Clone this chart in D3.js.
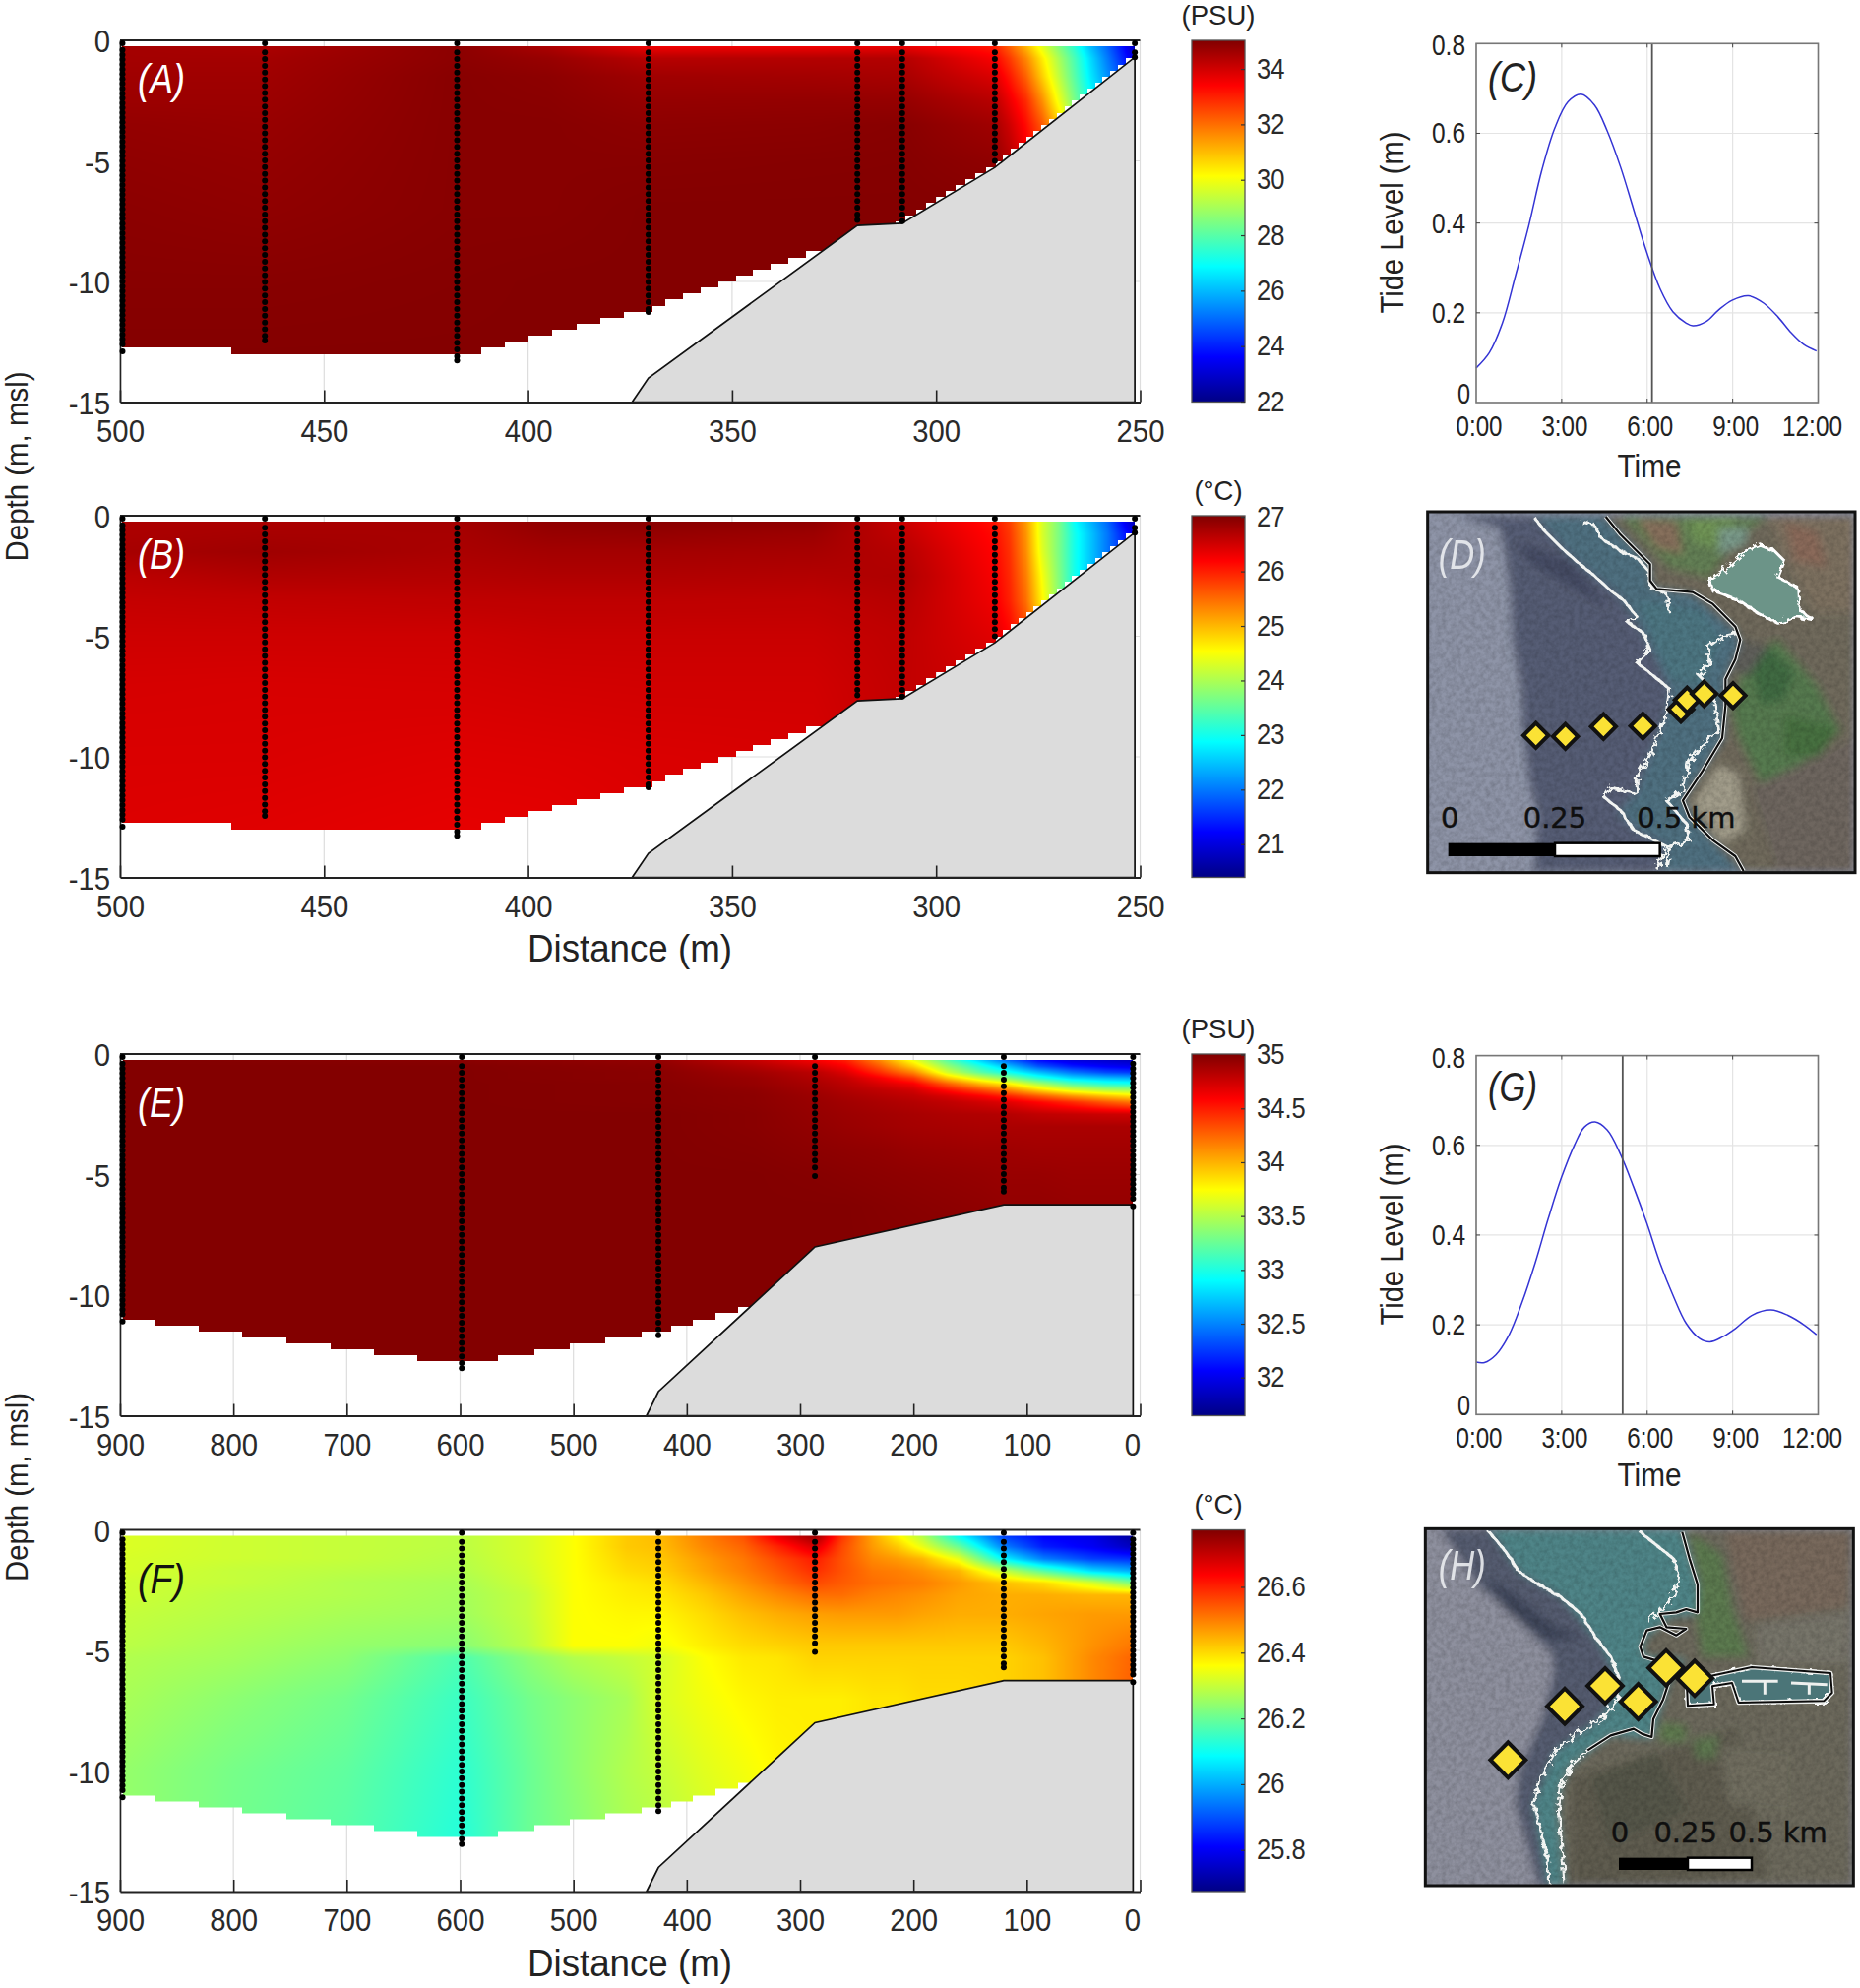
<!DOCTYPE html>
<html>
<head>
<meta charset="utf-8">
<script src="https://cdn.jsdelivr.net/npm/d3@7"></script>
<style>
  html, body { margin: 0; background: #fff; }
  svg { display: block; }
  text { font-family: "Liberation Sans", Arial, sans-serif; fill: #222; }
</style>
</head>
<body>
<svg id="fig" width="1890" height="2020"></svg>
<script>
// ---- section data, top pair (A, B) ----
const abTicks = [500, 450, 400, 350, 300, 250];
const abStations = [499.4, 464.5, 417.4, 370.5, 319.3, 308.3, 285.6, 251.3];
const abStationBottoms = [-12.9, -12.45, -13.28, -11.27, -7.45, -7.5, -5.0, -0.7];
const abBathyD = [374.5, 370.5, 319.3, 308.3, 285.6, 251.3];
const abBathyZ = [-15, -14, -7.68, -7.59, -5.27, -0.7];
const abStepD = [472.8, 411.6, 405.7, 400, 394.1, 388.2, 382.3, 376.5, 369.5, 366.4, 362, 357.7, 353.4, 349, 344.9, 340.6, 336.2, 331.9, 327.5, 310];
const abStepZ = [-12.75, -13, -12.75, -12.5, -12.25, -12, -11.75, -11.5, -11.25, -11, -10.75, -10.5, -10.25, -10, -9.75, -9.5, -9.25, -9, -8.75, -15];
const abCols = [500, 465, 417, 395, 370, 330, 308, 286, 282, 278, 274, 270, 266, 262, 258, 254, 251];
const abRows = [-0.25, -0.75, -1.5, -2.5, -3.5, -5, -7, -10, -13.25];

const salinityA = [
  [34.6, 34.5, 34.9, 34.5, 33.6, 33.6, 33.7, 33.1, 32.2, 31.1, 29.8, 28.6, 27.4, 26.0, 24.9, 23.7, 22.6],
  [34.6, 34.6, 34.9, 34.75, 34.35, 34.4, 34.4, 33.5, 32.7, 31.7, 30.4, 29.1, 27.8, 26.4, 25.2, 24.0, 23.0],
  [34.65, 34.65, 34.95, 34.88, 34.65, 34.6, 34.55, 33.9, 33.15, 32.2, 30.8, 29.4, 28.0, 26.6, 25.5, 24.5, 23.5],
  [34.7, 34.7, 34.95, 34.92, 34.78, 34.8, 34.78, 34.35, 33.65, 32.9, 31.6, 30.0, 28.4, 27.0, 26.0, 25.0, 24.0],
  [34.8, 34.75, 34.95, 34.95, 34.88, 34.9, 34.95, 34.65, 34.05, 33.3, 32.3, 30.8, 29.0, 27.0, 26.0, 25.0, 24.0],
  [34.85, 34.8, 34.95, 34.95, 34.95, 34.97, 34.98, 34.85, 34.4, 33.7, 32.9, 31.0, 29.0, 27.0, 26.0, 25.0, 24.0],
  [34.9, 34.85, 34.95, 34.95, 35, 35, 35, 35, 34.6, 34.0, 33.0, 31.0, 29.0, 27.0, 26.0, 25.0, 24.0],
  [34.95, 34.95, 34.98, 35, 35, 35, 35, 35, 35, 34.5, 33.5, 31.0, 29.0, 27.0, 26.0, 25.0, 24.0],
  [35, 35, 35, 35, 35, 35, 35, 35, 35, 34.5, 33.5, 31.0, 29.0, 27.0, 26.0, 25.0, 24.0]
];
const temperatureB = [
  [26.75, 26.75, 26.8, 26.93, 26.97, 26.93, 26.55, 26.1, 25.8, 25.2, 24.3, 23.7, 22.9, 22.4, 21.9, 21.2, 20.7],
  [26.75, 26.78, 26.78, 26.88, 26.9, 26.85, 26.6, 26.15, 25.85, 25.25, 24.3, 23.7, 23.0, 22.5, 22.0, 21.4, 21.0],
  [26.78, 26.83, 26.76, 26.8, 26.8, 26.78, 26.68, 26.2, 25.9, 25.3, 24.35, 23.7, 23.0, 22.5, 22.0, 21.5, 21.0],
  [26.65, 26.72, 26.7, 26.72, 26.72, 26.7, 26.73, 26.25, 25.95, 25.4, 24.5, 23.75, 23.0, 22.5, 22.0, 21.5, 21.0],
  [26.58, 26.6, 26.62, 26.63, 26.63, 26.62, 26.68, 26.3, 26.0, 25.5, 24.6, 23.8, 23.0, 22.5, 22.0, 21.5, 21.0],
  [26.52, 26.52, 26.52, 26.55, 26.55, 26.55, 26.62, 26.4, 26.2, 25.8, 25.0, 24.0, 23.0, 22.5, 22.0, 21.5, 21.0],
  [26.47, 26.46, 26.47, 26.49, 26.5, 26.5, 26.6, 26.5, 26.3, 26.0, 25.0, 24.0, 23.0, 22.5, 22.0, 21.5, 21.0],
  [26.44, 26.44, 26.41, 26.42, 26.44, 26.46, 26.6, 26.5, 26.3, 26.0, 25.0, 24.0, 23.0, 22.5, 22.0, 21.5, 21.0],
  [26.42, 26.4, 26.36, 26.37, 26.42, 26.46, 26.6, 26.5, 26.3, 26.0, 25.0, 24.0, 23.0, 22.5, 22.0, 21.5, 21.0]
];

// ---- section data, lower pair (E, F) ----
const efTicks = [900, 800, 700, 600, 500, 400, 300, 200, 100, 0];
const efStations = [897.8, 598.5, 425, 286.9, 120.3, 6.2];
const efStationBottoms = [-11.09, -13.03, -11.66, -5.06, -5.7, -6.32];
const efBathyD = [435.5, 425, 286.9, 120.3, 6.2];
const efBathyZ = [-15, -14, -8, -6.25, -6.25];
const efStepD = [869.6, 830.6, 792.6, 753.5, 714, 676, 637.6, 566.6, 534.6, 502.9, 471.6, 439.7, 414, 394.5, 375, 355, 344];
const efStepZ = [-11, -11.25, -11.5, -11.75, -12, -12.25, -12.5, -12.75, -12.5, -12.25, -12, -11.75, -11.5, -11.25, -11, -10.75, -10.5];

const eCols = [900, 600, 425, 340, 287, 260, 230, 200, 170, 140, 120, 90, 60, 30, 6];
const eRows = [-0.25, -0.5, -0.75, -1, -1.25, -1.5, -1.75, -2, -2.5, -3, -4, -5, -6.3, -9, -13.25];
const salinityE = [
  [35, 34.98, 34.95, 34.78, 34.62, 34.5, 34.15, 33.7, 33.2, 32.75, 32.45, 32.1, 31.95, 31.9, 31.85],
  [35, 35, 34.97, 34.85, 34.72, 34.6, 34.3, 33.9, 33.4, 33.0, 32.75, 32.35, 32.15, 32.05, 32.0],
  [35, 35, 34.98, 34.9, 34.82, 34.7, 34.45, 34.15, 33.6, 33.2, 33.0, 32.7, 32.45, 32.3, 32.25],
  [35, 35, 34.98, 34.93, 34.85, 34.78, 34.62, 34.42, 33.95, 33.6, 33.4, 33.05, 32.8, 32.7, 32.65],
  [35, 35, 34.99, 34.94, 34.88, 34.82, 34.72, 34.62, 34.3, 34.0, 33.85, 33.5, 33.2, 33.05, 33.0],
  [35, 35, 34.99, 34.96, 34.9, 34.85, 34.8, 34.74, 34.55, 34.35, 34.2, 33.9, 33.65, 33.5, 33.45],
  [35, 35, 34.99, 34.97, 34.92, 34.88, 34.84, 34.8, 34.72, 34.6, 34.5, 34.3, 34.1, 33.95, 33.85],
  [35, 35, 34.99, 34.97, 34.93, 34.9, 34.87, 34.84, 34.8, 34.74, 34.7, 34.58, 34.45, 34.3, 34.2],
  [35, 35, 35, 34.98, 34.94, 34.92, 34.9, 34.88, 34.86, 34.85, 34.84, 34.8, 34.78, 34.76, 34.75],
  [35, 35, 35, 34.98, 34.95, 34.93, 34.91, 34.89, 34.88, 34.87, 34.87, 34.87, 34.87, 34.87, 34.87],
  [35, 35, 35, 34.99, 34.97, 34.96, 34.95, 34.93, 34.92, 34.91, 34.91, 34.9, 34.9, 34.9, 34.9],
  [35, 35, 35, 35, 34.99, 34.98, 34.97, 34.96, 34.95, 34.94, 34.93, 34.93, 34.92, 34.92, 34.92],
  [35, 35, 35, 35, 35, 35, 34.99, 34.98, 34.97, 34.96, 34.95, 34.95, 34.94, 34.94, 34.94],
  [35, 35, 35, 35, 35, 35, 35, 35, 35, 35, 35, 35, 35, 35, 35],
  [35, 35, 35, 35, 35, 35, 35, 35, 35, 35, 35, 35, 35, 35, 35]
];
const fCols = [900, 800, 700, 600, 540, 500, 453, 425, 385, 350, 320, 287, 263, 236, 214, 192, 160, 120, 85, 42, 6];
const fRows = [-0.25, -0.7, -1.2, -1.7, -2.2, -2.7, -3.5, -4.8, -5.3, -7, -10, -13.25];
const temperatureF = [
  [26.325, 26.31, 26.30, 26.29, 26.32, 26.36, 26.42, 26.435, 26.50, 26.55, 26.66, 26.75, 26.58, 26.46, 26.37, 26.28, 26.09, 25.88, 25.81, 25.785, 25.70],
  [26.325, 26.31, 26.30, 26.29, 26.32, 26.36, 26.42, 26.43, 26.49, 26.53, 26.60, 26.68, 26.56, 26.47, 26.42, 26.34, 26.20, 25.95, 25.84, 25.80, 25.74],
  [26.32, 26.31, 26.30, 26.285, 26.32, 26.36, 26.41, 26.42, 26.47, 26.51, 26.56, 26.61, 26.55, 26.49, 26.47, 26.44, 26.34, 26.08, 25.95, 25.88, 25.86],
  [26.32, 26.30, 26.29, 26.28, 26.315, 26.36, 26.40, 26.41, 26.46, 26.50, 26.54, 26.59, 26.55, 26.51, 26.50, 26.48, 26.44, 26.30, 26.18, 26.05, 26.0],
  [26.31, 26.30, 26.28, 26.27, 26.31, 26.36, 26.385, 26.395, 26.44, 26.48, 26.52, 26.56, 26.54, 26.52, 26.51, 26.50, 26.47, 26.43, 26.40, 26.32, 26.22],
  [26.31, 26.29, 26.28, 26.265, 26.30, 26.36, 26.38, 26.385, 26.42, 26.46, 26.49, 26.52, 26.52, 26.50, 26.49, 26.48, 26.46, 26.45, 26.45, 26.44, 26.44],
  [26.30, 26.285, 26.27, 26.26, 26.30, 26.36, 26.37, 26.37, 26.40, 26.43, 26.45, 26.465, 26.47, 26.47, 26.47, 26.46, 26.45, 26.45, 26.46, 26.47, 26.47],
  [26.29, 26.27, 26.25, 26.235, 26.29, 26.36, 26.36, 26.35, 26.38, 26.40, 26.41, 26.42, 26.42, 26.42, 26.42, 26.42, 26.42, 26.42, 26.44, 26.48, 26.51],
  [26.28, 26.265, 26.24, 26.17, 26.24, 26.28, 26.30, 26.315, 26.36, 26.385, 26.39, 26.41, 26.41, 26.41, 26.41, 26.41, 26.41, 26.41, 26.43, 26.49, 26.53],
  [26.27, 26.24, 26.21, 26.15, 26.21, 26.24, 26.27, 26.32, 26.35, 26.37, 26.38, 26.38, 26.38, 26.39, 26.39, 26.40, 26.40, 26.41, 26.43, 26.49, 26.54],
  [26.25, 26.215, 26.19, 26.135, 26.2, 26.24, 26.28, 26.30, 26.33, 26.35, 26.37, 26.38, 26.38, 26.39, 26.39, 26.40, 26.40, 26.41, 26.43, 26.49, 26.54],
  [26.25, 26.21, 26.18, 26.125, 26.2, 26.23, 26.27, 26.28, 26.31, 26.33, 26.37, 26.38, 26.38, 26.39, 26.39, 26.40, 26.40, 26.41, 26.43, 26.49, 26.54]
];

// CTD sample depths, a coarse and a fine profile
const sampleDepths = [-0.12, -0.5, -0.78, -1.06, -1.34, -1.62, -1.9, -2.18, -2.46, -2.74, -3.02, -3.3, -3.58, -3.86, -4.14, -4.42, -4.7, -4.98, -5.26, -5.54, -5.82, -6.1, -6.38, -6.66, -6.94, -7.22, -7.5, -7.78, -8.06, -8.34, -8.62, -8.9, -9.18, -9.46, -9.74, -10.02, -10.3, -10.58, -10.86, -11.14, -11.42, -11.7, -11.98, -12.26, -12.54, -12.82, -13.1];
const denseDepths = [-0.12, -0.4, -0.6, -0.8, -1, -1.2, -1.4, -1.6, -1.8, -2, -2.2, -2.4, -2.6, -2.8, -3, -3.2, -3.4, -3.6, -3.8, -4, -4.2, -4.4, -4.6, -4.8, -5, -5.2, -5.4, -5.6, -5.8, -6, -6.2, -6.4, -6.6, -6.8, -7, -7.2, -7.4, -7.6, -7.8, -8, -8.2, -8.4, -8.6, -8.8, -9, -9.2, -9.4, -9.6, -9.8, -10, -10.2, -10.4, -10.6, -10.8, -11, -11.2, -11.4, -11.6, -11.8, -12, -12.2, -12.4, -12.6, -12.8];

// tide curves
const tideTimeC = [0, 0.46, 0.92, 1.38, 1.84, 2.3, 2.76, 3.22, 3.68, 4.15, 4.6, 5.07, 5.53, 5.99, 6.45, 6.9, 7.37, 7.6, 8.06, 8.5, 8.98, 9.56, 10.1, 10.6, 11.06, 11.5, 11.94];
const tideLevelC = [0.077, 0.111, 0.177, 0.283, 0.393, 0.517, 0.612, 0.67, 0.687, 0.663, 0.605, 0.524, 0.429, 0.334, 0.254, 0.2025, 0.177, 0.171, 0.18, 0.206, 0.228, 0.238, 0.221, 0.19, 0.155, 0.129, 0.115];
const tideTimeG = [0, 0.29, 0.69, 1.15, 1.61, 2.07, 2.53, 2.99, 3.45, 3.8, 4.17, 4.6, 5.07, 5.53, 5.99, 6.45, 6.91, 7.37, 7.83, 8.2, 8.64, 9.1, 9.67, 10.34, 10.94, 11.52, 11.94];
const tideLevelG = [0.117, 0.116, 0.133, 0.177, 0.25, 0.338, 0.437, 0.528, 0.601, 0.641, 0.652, 0.634, 0.579, 0.506, 0.426, 0.338, 0.265, 0.203, 0.17, 0.162, 0.173, 0.192, 0.221, 0.233, 0.221, 0.199, 0.178];
const tideTicksX = [0, 3, 6, 9, 12];
const tideTickLabels = ["0:00", "3:00", "6:00", "9:00", "12:00"];
const tideTicksY = [0, 0.2, 0.4, 0.6, 0.8];

// colour bars
const jetStops = [0, 0.125, 0.375, 0.625, 0.875, 1];
const jetColors = ["#000084", "#0000ff", "#00ffff", "#ffff00", "#ff0000", "#800000"];
const barTicksA = [34, 32, 30, 28, 26, 24, 22];
const barTicksB = [27, 26, 25, 24, 23, 22, 21];
const barTicksE = [35, 34.5, 34, 33.5, 33, 32.5, 32];
const barTicksF = [26.6, 26.4, 26.2, 26, 25.8];

// ---- map sketches, in the picture's own map units ----
const dReef = [[150,40],[280,80],[300,170],[315,300],[320,420],[345,560],[350,680],[370,850],[395,950],[385,1130],[780,1130],[790,1050],[700,1000],[640,950],[700,880],[740,770],[790,640],[800,570],[720,400],[640,280],[500,170],[385,40]];
const dStreak = [[330,120],[500,180],[620,330],[500,260],[380,190]];
const dTeal = [[385,40],[600,40],[740,190],[745,260],[870,280],[1000,390],[1015,430],[970,540],[965,720],[840,910],[930,1030],[1025,1130],[770,1130],[790,1050],[700,1000],[640,950],[700,880],[740,770],[790,640],[800,570],[720,400],[640,280],[500,170]];
const dLagoon = [[700,300],[900,330],[960,420],[900,560],[800,540],[740,400]];
const dLand = [[600,40],[1365,40],[1365,1130],[1025,1130],[930,1030],[840,910],[965,720],[970,540],[1015,430],[1000,390],[870,280],[745,260],[740,190]];
const dGreenTop = [[650,40],[1100,40],[1000,120],[920,230],[800,200],[720,120]];
const dBrightTop = [[850,50],[1010,50],[940,140],[870,120]];
const dRedA = [[700,50],[820,60],[840,160],[760,140]];
const dBrownTop = [[1100,40],[1365,40],[1365,340],[1240,340],[1190,250],[1130,130]];
const dRedB = [[1150,60],[1250,90],[1280,200],[1180,180]];
const dGreenMid = [[1030,470],[1130,420],[1250,560],[1320,700],[1200,800],[1080,860],[1010,720],[990,640]];
const dTreesA = [[1040,480],[1100,440],[1180,520],[1150,600],[1080,620]];
const dTreesB = [[1150,650],[1320,690],[1250,780],[1150,770]];
const dMud = [[1020,420],[1100,440],[1040,530],[990,520]];
const dBrownLow = [[1050,870],[1365,720],[1365,1130],[1130,1130]];
const dSand = [[870,920],[950,800],[1010,830],[1030,1000],[960,1040]];
const dPondBig = [[920,240],[960,215],[1000,180],[1030,150],[1070,130],[1120,150],[1150,180],[1130,230],[1190,260],[1195,330],[1240,360],[1190,350],[1130,370],[1070,340],[1010,300],[960,280],[930,270]];
const dPondSmall = [[950,80],[1040,80],[1030,130],[950,160]];
const dReefLine = [[385,45],[420,90],[470,140],[520,185],[570,225],[620,270],[660,300],[700,350],[670,365],[720,400],[740,450],[700,490],[750,530],[800,570],[790,640],[770,700],[740,770],[700,840],[700,890],[620,870],[600,900],[650,940],[690,1000],[790,1050],[760,1120]];
const dInnerLineN = [[530,60],[570,70],[590,110],[650,150],[700,170],[735,210],[740,260],[790,280],[800,340]];
const dInnerLineS = [[1010,400],[960,410],[920,440],[920,500],[890,530],[930,570],[940,640],[950,700],[900,740],[860,790],[840,880],[790,910],[850,980],[860,1030],[800,1050],[790,1110]];
const dCoast = [[605,45],[650,100],[700,150],[740,190],[740,240],[760,265],[870,275],[930,310],[1000,380],[1015,420],[1000,480],[970,540],[970,620],[960,720],[900,820],[840,910],[860,960],[930,1030],[1000,1080],[1025,1125]];
const dStationsX = [392, 482, 598, 718, 834, 853, 905, 993];
const dStationsY = [712, 715, 685, 683, 632, 604, 585, 590];

const hReef = [[100,40],[250,40],[340,170],[470,250],[580,380],[650,510],[590,620],[450,720],[385,880],[430,1130],[400,1130],[330,880],[340,780],[410,620],[445,480],[440,420],[310,290],[220,220]];
const hTeal = [[250,40],[840,40],[885,210],[885,300],[800,310],[720,380],[720,430],[850,440],[800,500],[745,680],[620,670],[500,760],[470,820],[460,900],[480,1130],[430,1130],[385,880],[450,720],[590,620],[650,510],[580,380],[470,250],[340,170]];
const hLand = [[840,40],[1360,40],[1360,1130],[480,1130],[460,900],[470,820],[500,760],[620,670],[745,680],[800,500],[850,440],[720,430],[720,380],[800,310],[885,300],[885,210]];
const hGreen = [[860,50],[960,120],[990,280],[1040,430],[900,430],[880,300],[890,200]];
const hBrownTop = [[970,50],[1350,50],[1340,280],[1030,320]];
const hPlant = [[1060,330],[1350,290],[1340,450],[1070,450]];
const hLow = [[500,800],[1000,650],[1100,1100],[500,1130]];
const hBrush = [[560,800],[760,720],[850,900],[620,1000]];
const hClearing = [[950,700],[1170,720],[1170,900],[980,880]];
const hGreenA = [[770,630],[850,640],[850,690],[770,690]];
const hGreenB = [[870,680],[950,670],[940,740],[880,740]];
const hMarina = [[850,470],[920,490],[1050,462],[1290,480],[1295,540],[1270,565],[1010,570],[990,510],[930,520],[935,575],[855,580]];
const hDarkSpot = [[240,190],[310,230],[450,340],[540,370],[430,380],[300,290]];
const hReefLine = [[250,50],[300,110],[340,170],[400,210],[470,250],[530,300],[580,380],[620,430],[650,510],[640,560],[590,620],[510,670],[450,720],[400,810],[385,880],[410,970],[430,1060],[430,1120]];
const hInnerLine = [[710,50],[760,90],[810,130],[830,190],[810,250],[770,290],[730,320]];
const hCoastN = [[838,50],[860,130],[885,210],[885,295],[850,285],[820,295],[770,300],[790,340],[850,345],[820,365],[770,340],[730,350],[710,400],[720,430],[770,445]];
const hCoastS = [[800,500],[780,560],[750,620],[745,675],[715,665],[690,650],[620,670],[550,715]];
const hShoreS = [[550,715],[500,760],[470,820],[460,900],[470,1000],[480,1120]];
const hPierA = [[1020,505],[1130,505]];
const hPierB = [[1090,505],[1090,545]];
const hPierC = [[1170,510],[1280,515]];
const hPierD = [[1225,515],[1225,545]];
const hStationsX = [307, 480, 603, 704, 789, 876];
const hStationsY = [745, 581, 519, 567, 464, 496];

// ---- helpers ----
const svg = d3.select("#fig");
const defs = svg.append("defs");

const jetGrad = defs.append("linearGradient").attr("id", "jet")
  .attr("x1", 0).attr("x2", 0).attr("y1", 1).attr("y2", 0);
jetStops.forEach((s, i) => jetGrad.append("stop").attr("offset", s).attr("stop-color", jetColors[i]));

// rough coast lines and satellite grain
const rough = defs.append("filter").attr("id", "rough").attr("x", "-5%").attr("y", "-5%").attr("width", "110%").attr("height", "110%");
rough.append("feTurbulence").attr("type", "fractalNoise").attr("baseFrequency", 0.17).attr("numOctaves", 2).attr("seed", 4).attr("result", "n");
rough.append("feDisplacementMap").attr("in", "SourceGraphic").attr("in2", "n").attr("scale", 10);

const grain = defs.append("filter").attr("id", "grain").attr("x", 0).attr("y", 0).attr("width", "100%").attr("height", "100%");
grain.append("feTurbulence").attr("type", "fractalNoise").attr("baseFrequency", 0.2).attr("numOctaves", 3).attr("seed", 9);
grain.append("feColorMatrix").attr("type", "matrix").attr("values", "0 0 0 0 0  0 0 0 0 0  0 0 0 0 0  1.4 0 0 0 -0.45");

defs.append("filter").attr("id", "soft").append("feGaussianBlur").attr("stdDeviation", 4);

function label(g, x, y, str, size, opts) {
  opts = opts || {};
  const t = g.append("text").attr("x", x).attr("y", y).attr("font-size", size).text(str)
    .attr("text-anchor", opts.anchor || "middle");
  if (opts.italic) t.attr("font-style", "italic");
  if (opts.fill) t.style("fill", opts.fill);
  if (opts.length) t.attr("textLength", opts.length).attr("lengthAdjust", "spacingAndGlyphs");
  if (opts.rotate) t.attr("transform", `rotate(-90, ${x}, ${y})`);
  if (opts.family) t.style("font-family", opts.family);
  if (opts.opacity) t.style("opacity", opts.opacity);
  return t;
}

// the source figure is stretched a bit upright, so squeeze the labels sideways
function squeeze(sel, f) {
  sel.each(function () {
    const len = this.getComputedTextLength();
    d3.select(this).attr("textLength", len * f).attr("lengthAdjust", "spacingAndGlyphs");
  });
}

function stepBottom(steps, d) {
  for (let i = 0; i < steps.d.length; i++) {
    if (d >= steps.d[i]) return steps.z[i];
  }
  return null;
}

function drawSection(p) {
  const left = 122, right = 1158.5;
  const x = d3.scaleLinear().domain(p.xDomain).range([left, right]);
  const y = d3.scaleLinear().domain([0, -15]).range([p.top, p.top + 367.5]);
  const g = svg.append("g");

  // grid
  g.selectAll(".gx").data(p.ticks).enter().append("line")
    .attr("x1", d => x(d)).attr("x2", d => x(d)).attr("y1", y(0)).attr("y2", y(-15))
    .attr("stroke", "#dddddd").attr("stroke-width", 1.2);
  g.selectAll(".gy").data([-5, -10]).enter().append("line")
    .attr("x1", left).attr("x2", right).attr("y1", d => y(d)).attr("y2", d => y(d))
    .attr("stroke", "#dddddd").attr("stroke-width", 1.2);

  // the shaded section goes into an image, one pixel per screen pixel
  const bathy = d3.scaleLinear().domain(p.bathyD).range(p.bathyZ).clamp(true);
  const colIdx = d3.scaleLinear().domain(p.cols).range(d3.range(p.cols.length)).clamp(true);
  const rowIdx = d3.scaleLinear().domain(p.rows).range(d3.range(p.rows.length)).clamp(true);
  const color = d3.scaleLinear()
    .domain(jetStops.map(s => p.domain[0] + s * (p.domain[1] - p.domain[0])))
    .range(jetColors).clamp(true);
  const lut = d3.range(1025).map(i => d3.rgb(color(p.domain[0] + i / 1024 * (p.domain[1] - p.domain[0]))));

  const w = Math.round(right - left), h = 368;
  const canvas = document.createElement("canvas");
  canvas.width = w; canvas.height = h;
  const ctx = canvas.getContext("2d");
  const img = ctx.createImageData(w, h);
  const dStart = p.stations[0], dEnd = p.stations[p.stations.length - 1];
  for (let px = 0; px < w; px++) {
    const d = x.invert(left + px + 0.5);
    if (d > dStart || d < dEnd) continue;
    let floor = stepBottom(p.steps, d);
    if (floor === null) floor = p.snap ? Math.ceil(bathy(d) / 0.25) * 0.25 : bathy(d);
    const cf = colIdx(d);
    const c0 = Math.min(Math.floor(cf), p.cols.length - 2), ct = cf - c0;
    for (let py = 0; py < h; py++) {
      const z = y.invert(p.top + py + 0.5);
      if (z > -0.25 || z < floor) continue;
      const rf = rowIdx(z);
      const r0 = Math.min(Math.floor(rf), p.rows.length - 2), rt = rf - r0;
      const v = (1 - rt) * ((1 - ct) * p.table[r0][c0] + ct * p.table[r0][c0 + 1]) +
                rt * ((1 - ct) * p.table[r0 + 1][c0] + ct * p.table[r0 + 1][c0 + 1]);
      const k = Math.max(0, Math.min(1024, Math.round((v - p.domain[0]) / (p.domain[1] - p.domain[0]) * 1024)));
      const o = (py * w + px) * 4, c = lut[k];
      img.data[o] = c.r; img.data[o + 1] = c.g; img.data[o + 2] = c.b; img.data[o + 3] = 255;
    }
  }
  ctx.putImageData(img, 0, 0);
  g.append("image").attr("x", left).attr("y", p.top).attr("width", w).attr("height", h)
    .attr("href", canvas.toDataURL());

  // sea floor
  const floorPts = p.bathyD.map((d, i) => [d, p.bathyZ[i]]);
  floorPts.push([dEnd, -15]);
  const line = d3.line().x(d => x(d[0])).y(d => y(d[1]));
  g.append("path").attr("d", line(floorPts) + "Z").attr("fill", "#dcdcdc")
    .attr("stroke", "#111").attr("stroke-width", 1.7);

  // axes
  const ax = d3.axisBottom(x).tickValues(p.ticks).tickSizeInner(-12).tickSizeOuter(0).tickFormat(String);
  const axG = g.append("g").attr("transform", `translate(0,${y(-15)})`).call(ax);
  axG.select(".domain").attr("stroke", "#222").attr("stroke-width", 2);
  axG.selectAll(".tick line").attr("stroke", "#222").attr("stroke-width", 1.6);
  axG.selectAll("text").attr("dy", null).attr("y", 40).attr("font-size", 30.5)
    .attr("font-family", "Liberation Sans").style("fill", "#2a2a2a")
    .attr("dx", d => d === 0 ? -8 : 0)
    .call(squeeze, 0.96);
  const ay = d3.axisLeft(y).tickValues([0, -5, -10, -15]).tickSize(0).tickFormat(String);
  const ayG = g.append("g").attr("transform", `translate(${left},0)`).call(ay);
  ayG.select(".domain").attr("stroke", "#222").attr("stroke-width", 1.6);
  ayG.selectAll("text").attr("dy", null).attr("x", -10).attr("y", 11.5)
    .attr("font-size", 30.5).attr("font-family", "Liberation Sans").style("fill", "#2a2a2a")
    .call(squeeze, 0.96);
  g.append("line").attr("x1", left).attr("x2", right).attr("y1", y(0)).attr("y2", y(0))
    .attr("stroke", "#222").attr("stroke-width", 2);

  // stations
  p.stations.forEach((d, i) => {
    const source = p.dense.includes(i) ? denseDepths : sampleDepths;
    const zs = source.filter(z => z > p.bottoms[i] + 0.12).concat(p.bottoms[i]);
    g.append("g").selectAll("circle").data(zs).enter().append("circle")
      .attr("cx", x(d)).attr("cy", z => y(z)).attr("r", 3).attr("fill", "#000");
  });

  label(g, 140, p.top + p.letterDy, p.letter, 42, { anchor: "start", italic: true, length: 48, fill: p.letterFill });

  // colour bar
  const bx0 = 1211, bx1 = 1265;
  const by = d3.scaleLinear().domain(p.domain).range([p.top + 367.5, p.top]);
  g.append("rect").attr("x", bx0).attr("y", p.top).attr("width", bx1 - bx0).attr("height", 367.5)
    .attr("fill", "url(#jet)").attr("stroke", "#555").attr("stroke-width", 1.3);
  g.selectAll(".bt").data(p.barTicks).enter().append("line")
    .attr("x1", bx1 - 4).attr("x2", bx1).attr("y1", d => by(d)).attr("y2", d => by(d))
    .attr("stroke", "#333").attr("stroke-width", 1.2);
  g.selectAll(".bl").data(p.barTicks).enter().append("text")
    .attr("x", 1277).attr("y", d => by(d) + 9).attr("font-size", 29).style("fill", "#2a2a2a").text(String)
    .call(squeeze, 0.88);
  label(g, 1238, p.unitY, p.unit, 27.5);
}

function drawTide(p) {
  const x = d3.scaleLinear().domain([0, 12]).range([1500, 1847.5]);
  const y = d3.scaleLinear().domain([0, 0.8]).range([p.bottom, p.bottom - 364.7]);
  const g = svg.append("g");
  g.selectAll(".gx").data(tideTicksX).enter().append("line")
    .attr("x1", d => x(d)).attr("x2", d => x(d)).attr("y1", y(0)).attr("y2", y(0.8))
    .attr("stroke", "#e4e4e4").attr("stroke-width", 1.2);
  g.selectAll(".gy").data(tideTicksY).enter().append("line")
    .attr("x1", x(0)).attr("x2", x(12)).attr("y1", d => y(d)).attr("y2", d => y(d))
    .attr("stroke", "#e4e4e4").attr("stroke-width", 1.2);
  const pts = p.time.map((t, i) => [t, p.level[i]]);
  g.append("path").attr("fill", "none").attr("stroke", "#3434d4").attr("stroke-width", 1.5)
    .attr("d", d3.line().curve(d3.curveCatmullRom).x(d => x(d[0])).y(d => y(d[1]))(pts));
  g.append("line").attr("x1", x(p.now)).attr("x2", x(p.now)).attr("y1", y(0)).attr("y2", y(0.8))
    .attr("stroke", "#555").attr("stroke-width", 1.8);
  g.append("rect").attr("x", x(0)).attr("y", y(0.8)).attr("width", x(12) - x(0)).attr("height", y(0) - y(0.8))
    .attr("fill", "none").attr("stroke", "#777").attr("stroke-width", 1.6);

  // little ticks on both frames
  tideTicksX.slice(1, 4).forEach(t => {
    g.append("line").attr("x1", x(t)).attr("x2", x(t)).attr("y1", y(0)).attr("y2", y(0) - 4).attr("stroke", "#444");
    g.append("line").attr("x1", x(t)).attr("x2", x(t)).attr("y1", y(0.8)).attr("y2", y(0.8) + 4).attr("stroke", "#444");
  });
  tideTicksY.slice(1, 4).forEach(v => {
    g.append("line").attr("x1", x(0)).attr("x2", x(0) + 4).attr("y1", y(v)).attr("y2", y(v)).attr("stroke", "#444");
    g.append("line").attr("x1", x(12) - 4).attr("x2", x(12)).attr("y1", y(v)).attr("y2", y(v)).attr("stroke", "#444");
  });

  tideTicksX.forEach((t, i) => {
    const wide = tideTickLabels[i].length > 4;
    label(g, x(t) + (wide ? -6 : 3), y(0) + 34, tideTickLabels[i], 30, { length: wide ? 61 : 47 });
  });
  tideTicksY.forEach(v => {
    const off = v === 0 ? 1 : (v === 0.8 ? 12 : 10);
    label(g, v === 0 ? 1494 : 1489, y(v) + off, v === 0 ? "0" : d3.format(".1f")(v), 30, { anchor: "end", length: v === 0 ? 13 : 34 });
  });
  label(g, 1676, p.timeY, "Time", 33, { length: 65 });
  label(g, 1426, p.titleY, "Tide Level (m)", 33, { rotate: true, length: 185 });
  label(g, 1512, p.letterY, p.letter, 42, { anchor: "start", italic: true, length: 50 });
}

function drawMap(m) {
  const x = d3.scaleLinear().domain([0, 1380]).range([1430, 1890]);
  const y = d3.scaleLinear().domain([0, 1170]).range([m.y0, m.y0 + 390]);
  const path = d3.line().x(d => x(d[0])).y(d => y(d[1]));
  const clipId = "clip" + m.letter[1];
  defs.append("clipPath").attr("id", clipId).append("rect")
    .attr("x", x(m.frame[0])).attr("y", y(m.frame[1]))
    .attr("width", x(m.frame[2]) - x(m.frame[0])).attr("height", y(m.frame[3]) - y(m.frame[1]));
  const g = svg.append("g").attr("clip-path", `url(#${clipId})`);
  const soft = g.append("g").attr("filter", "url(#soft)");
  soft.append("rect").attr("x", x(0)).attr("y", y(0)).attr("width", 460).attr("height", 420).attr("fill", m.ocean);
  m.areas.forEach(a => soft.append("path").attr("d", path(a.pts) + "Z").attr("fill", a.fill));

  g.append("rect").attr("x", x(m.frame[0])).attr("y", y(m.frame[1]))
    .attr("width", x(m.frame[2]) - x(m.frame[0])).attr("height", y(m.frame[3]) - y(m.frame[1]))
    .attr("filter", "url(#grain)").style("opacity", 0.2);

  const lines = g.append("g").attr("filter", "url(#rough)").attr("fill", "none").attr("stroke-linejoin", "round");
  (m.fills || []).forEach(a => {
    lines.append("path").attr("d", path(a.pts) + "Z").attr("fill", a.fill).attr("stroke", "#fff").attr("stroke-width", 3);
  });
  m.white.forEach(l => lines.append("path").attr("d", path(l)).attr("stroke", "#f2f4f2").attr("stroke-width", 3));
  const crisp = g.append("g").attr("fill", "none").attr("stroke-linejoin", "round");
  m.coast.forEach(l => {
    crisp.append("path").attr("d", path(l)).attr("stroke", "#eef0ee").attr("stroke-width", 4.2);
    crisp.append("path").attr("d", path(l)).attr("stroke", "#0c0c0c").attr("stroke-width", 2.2);
  });
  (m.closedCoast || []).forEach(l => {
    crisp.append("path").attr("d", path(l) + "Z").attr("stroke", "#eef0ee").attr("stroke-width", 4.6);
    crisp.append("path").attr("d", path(l) + "Z").attr("stroke", "#0c0c0c").attr("stroke-width", 2);
  });
  (m.piers || []).forEach(l => crisp.append("path").attr("d", path(l)).attr("stroke", "#eef0ee").attr("stroke-width", 3));

  // stations as yellow diamonds
  const sym = d3.symbol().type(d3.symbolSquare).size(m.diamond);
  g.selectAll(".st").data(m.sx).enter().append("path")
    .attr("d", sym)
    .attr("transform", (d, i) => `translate(${x(d)},${y(m.sy[i])}) rotate(45)`)
    .attr("fill", "#fbe235").attr("stroke", "#111").attr("stroke-width", m.diamondStroke);

  label(g, x(95), y(m.letterY), m.letter, 42, { anchor: "start", italic: true, fill: "#eef0f3", length: 48, opacity: 0.88 });

  // scale bar
  const s = m.scale;
  g.append("rect").attr("x", x(s[0])).attr("y", y(s[3])).attr("width", x(s[1]) - x(s[0])).attr("height", y(s[4]) - y(s[3])).attr("fill", "#000");
  g.append("rect").attr("x", x(s[1])).attr("y", y(s[3])).attr("width", x(s[2]) - x(s[1])).attr("height", y(s[4]) - y(s[3]))
    .attr("fill", "#fff").attr("stroke", "#000").attr("stroke-width", 2.5);
  m.scaleText.forEach(t => label(g, x(t[0]), y(m.scaleBase), t[1], 29, { fill: "#0f0f0f", family: "DejaVu Sans" })
    .attr("stroke", "#0f0f0f").attr("stroke-width", 0.4));

  svg.append("rect").attr("x", x(m.frame[0])).attr("y", y(m.frame[1]))
    .attr("width", x(m.frame[2]) - x(m.frame[0])).attr("height", y(m.frame[3]) - y(m.frame[1]))
    .attr("fill", "none").attr("stroke", "#111").attr("stroke-width", 3);
}

// ---- draw ----
drawSection({ top: 41, xDomain: [500, 250], ticks: abTicks, stations: abStations, bottoms: abStationBottoms, dense: [0],
  bathyD: abBathyD, bathyZ: abBathyZ, steps: { d: abStepD, z: abStepZ }, snap: true,
  cols: abCols, rows: abRows, table: salinityA, domain: [22, 35.05], barTicks: barTicksA,
  letter: "(A)", letterDy: 54, letterFill: "#fff", unit: "(PSU)", unitY: 25 });
drawSection({ top: 524, xDomain: [500, 250], ticks: abTicks, stations: abStations, bottoms: abStationBottoms, dense: [0],
  bathyD: abBathyD, bathyZ: abBathyZ, steps: { d: abStepD, z: abStepZ }, snap: true,
  cols: abCols, rows: abRows, table: temperatureB, domain: [20.4, 27.03], barTicks: barTicksB,
  letter: "(B)", letterDy: 54, letterFill: "#fff", unit: "(°C)", unitY: 508 });
drawSection({ top: 1071, xDomain: [900, 0], ticks: efTicks, stations: efStations, bottoms: efStationBottoms, dense: [0, 5],
  bathyD: efBathyD, bathyZ: efBathyZ, steps: { d: efStepD, z: efStepZ }, snap: false,
  cols: eCols, rows: eRows, table: salinityE, domain: [31.65, 35.01], barTicks: barTicksE,
  letter: "(E)", letterDy: 64, letterFill: "#fff", unit: "(PSU)", unitY: 1055 });
drawSection({ top: 1554.5, xDomain: [900, 0], ticks: efTicks, stations: efStations, bottoms: efStationBottoms, dense: [0, 5],
  bathyD: efBathyD, bathyZ: efBathyZ, steps: { d: efStepD, z: efStepZ }, snap: false,
  cols: fCols, rows: fRows, table: temperatureF, domain: [25.675, 26.775], barTicks: barTicksF,
  letter: "(F)", letterDy: 64, letterFill: "#111", unit: "(°C)", unitY: 1538 });

drawTide({ bottom: 409, time: tideTimeC, level: tideLevelC, now: 6.17, letter: "(C)", letterY: 93, timeY: 485, titleY: 226 });
drawTide({ bottom: 1437.3, time: tideTimeG, level: tideLevelG, now: 5.14, letter: "(G)", letterY: 1119, timeY: 1510, titleY: 1254 });

drawMap({ letter: "(D)", y0: 510, frame: [62, 30, 1365, 1130], ocean: "#8e94a7",
  areas: [
    { pts: dReef, fill: "#565d75" }, { pts: dStreak, fill: "#454c63" }, { pts: dTeal, fill: "#4f7080" }, { pts: dLagoon, fill: "#4d7682" },
    { pts: dLand, fill: "#6f6b5c" }, { pts: dGreenTop, fill: "#647f55" }, { pts: dBrightTop, fill: "#6f9457" }, { pts: dRedA, fill: "#87705c" },
    { pts: dBrownTop, fill: "#7d7160" }, { pts: dRedB, fill: "#8a6b5a" }, { pts: dPondSmall, fill: "#7a9a8a" },
    { pts: dGreenMid, fill: "#577a50" }, { pts: dTreesA, fill: "#3f6b42" }, { pts: dTreesB, fill: "#47703f" }, { pts: dMud, fill: "#5e5f5a" },
    { pts: dBrownLow, fill: "#6e665e" }, { pts: dSand, fill: "#a19c8a" }
  ],
  fills: [{ pts: dPondBig, fill: "#6c9488" }],
  white: [dReefLine, dInnerLineN, dInnerLineS],
  coast: [dCoast],
  sx: dStationsX, sy: dStationsY, diamond: 320, diamondStroke: 4, letterY: 205,
  scale: [125, 450, 770, 1040, 1080], scaleBase: 992, scaleText: [[130, "0"], [450, "0.25"], [850, "0.5 km"]] });

drawMap({ letter: "(H)", y0: 1540, frame: [55, 40, 1360, 1128], ocean: "#8e909e",
  areas: [
    { pts: hReef, fill: "#555b70" }, { pts: hDarkSpot, fill: "#3d4559" }, { pts: hTeal, fill: "#4f8588" }, { pts: hLand, fill: "#6c695b" },
    { pts: hGreen, fill: "#5b7a50" }, { pts: hBrownTop, fill: "#78695c" }, { pts: hPlant, fill: "#77746a" }, { pts: hLow, fill: "#5e5c50" },
    { pts: hBrush, fill: "#55564a" }, { pts: hClearing, fill: "#6f6d5e" }, { pts: hGreenA, fill: "#5e7a4f" }, { pts: hGreenB, fill: "#5d7650" }
  ],
  fills: [{ pts: hMarina, fill: "#4b7478" }],
  white: [hReefLine, hInnerLine, hShoreS],
  coast: [hCoastN, hCoastS],
  closedCoast: [hMarina],
  piers: [hPierA, hPierB, hPierC, hPierD],
  sx: hStationsX, sy: hStationsY, diamond: 640, diamondStroke: 4, letterY: 195,
  scale: [645, 855, 1050, 1043, 1080], scaleBase: 995, scaleText: [[648, "0"], [848, "0.25"], [1130, "0.5 km"]] });

// axis titles that are shared between panels
label(svg, 640, 977, "Distance (m)", 38, { length: 208 });
label(svg, 640, 2008, "Distance (m)", 38, { length: 208 });
label(svg, 28, 474, "Depth (m, msl)", 32, { rotate: true, length: 193 });
label(svg, 28, 1511, "Depth (m, msl)", 32, { rotate: true, length: 192 });
</script>
</body>
</html>
